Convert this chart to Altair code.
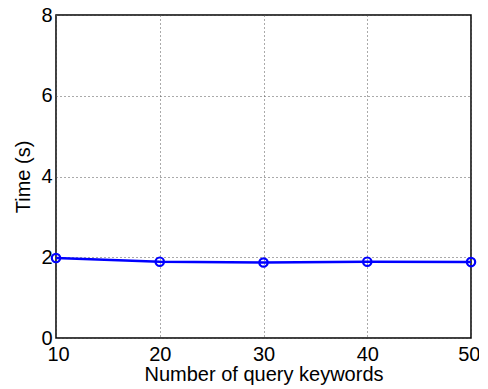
import altair as alt
import pandas as pd

keywords = [10, 20, 30, 40, 50]
times = [1.98, 1.89, 1.87, 1.89, 1.88]

df = pd.DataFrame({"k": keywords, "t": times})

FONT = "Liberation Sans"

x = alt.X("k:Q", title="Number of query keywords",
          scale=alt.Scale(domain=[10, 50], nice=False, zero=False),
          axis=alt.Axis(values=[10, 20, 30, 40, 50], grid=True, gridDash=[1, 3],
                        gridColor="#555555", gridWidth=1, ticks=False,
                        domain=False, labelFontSize=20, titleFontSize=20,
                        labelPadding=6, titlePadding=0, labelColor="black",
                        titleColor="black", titleFontWeight="normal",
                        labelFont=FONT, titleFont=FONT,
                        labelFlush=True, labelFlushOffset=9))
y = alt.Y("t:Q", title="Time (s)",
          scale=alt.Scale(domain=[0, 8], nice=False),
          axis=alt.Axis(values=[0, 2, 4, 6, 8], grid=True, gridDash=[1, 3],
                        gridColor="#555555", gridWidth=1, ticks=False,
                        domain=False, labelFontSize=20, titleFontSize=20,
                        labelPadding=4, titlePadding=7, labelColor="black",
                        titleColor="black", titleFontWeight="normal",
                        labelFont=FONT, titleFont=FONT, labelFlush=False))

line = alt.Chart(df).mark_line(color="#0000ff", strokeWidth=2.5).encode(x=x, y=y)
pts = alt.Chart(df).mark_point(shape="circle", filled=False, color="#0000ff",
                               size=70, strokeWidth=2.2, opacity=1).encode(x=x, y=y)

chart = (line + pts).properties(
    width=415, height=323,
    autosize=alt.AutoSizeParams(type="none"),
    padding={"left": 48, "top": 7, "right": 8, "bottom": 50},
).configure_view(stroke="black", strokeWidth=1.5)

chart.save("out.html", embed_options={"renderer": "svg", "actions": False})
